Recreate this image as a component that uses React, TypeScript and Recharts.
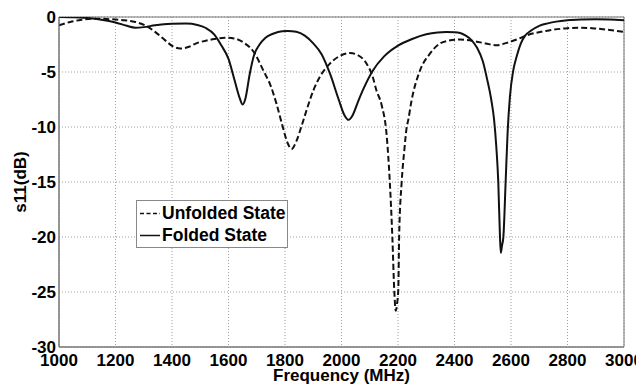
import React from 'react';
import { LineChart, Line, XAxis, YAxis, CartesianGrid, ReferenceArea } from 'recharts';

const xTicks = [1000, 1200, 1400, 1600, 1800, 2000, 2200, 2400, 2600, 2800, 3000];
const yTicks = [-30, -25, -20, -15, -10, -5, 0];

const foldedFreq = [
  1000, 1050, 1100, 1150, 1200, 1240, 1270, 1300, 1340, 1400, 1450, 1490, 1520, 1550, 1575, 1600,
  1622, 1640, 1650, 1660, 1675, 1690, 1710, 1730, 1760, 1790, 1810, 1840, 1870, 1900, 1930, 1960,
  1990, 2010, 2025, 2040, 2060, 2080, 2110, 2150, 2200, 2250, 2300, 2340, 2370, 2400, 2420, 2440,
  2460, 2480, 2500, 2515, 2530, 2540, 2548, 2555, 2561, 2564, 2568, 2573, 2581, 2588, 2596, 2608,
  2620, 2635, 2650, 2670, 2700, 2730, 2760, 2800, 2850, 2900, 2950, 3000,
];
const foldedS11 = [
  0, -0.02, -0.1, -0.25, -0.5, -0.8, -0.97, -0.92, -0.75, -0.62, -0.6, -0.72, -1.0, -1.6, -2.6, -3.8,
  -5.8, -7.4, -7.95, -7.4, -5.2, -3.5, -2.5, -1.9, -1.5, -1.3, -1.27, -1.35, -1.7, -2.4, -3.4, -5.2,
  -7.5, -8.9, -9.35, -8.9, -7.6, -6.4, -4.9, -3.6, -2.6, -2.0, -1.57, -1.4, -1.36, -1.38, -1.45, -1.7,
  -2.1, -2.8, -4.0, -5.6, -7.5, -9.3, -11.8, -15, -20, -21.45, -20.8, -20, -15, -10.5, -7.3, -4.85,
  -3.6, -2.4, -1.7, -1.25, -0.8, -0.58, -0.42, -0.3, -0.23, -0.2, -0.23, -0.3,
];

const unfoldedFreq = [
  1000, 1040, 1080, 1126, 1180, 1233, 1270, 1304, 1340, 1375, 1405, 1430, 1460, 1490, 1516, 1550,
  1587, 1620, 1658, 1690, 1723, 1750, 1770, 1790, 1810, 1823, 1840, 1860, 1876, 1900, 1923, 1959,
  1990, 2030, 2060, 2089, 2110, 2124, 2142, 2160, 2171, 2180, 2187, 2192, 2197, 2201, 2204, 2213,
  2222, 2231, 2236, 2248, 2278, 2313, 2349, 2380, 2419, 2467, 2510, 2549, 2585, 2620, 2656, 2703,
  2738, 2800, 2844, 2900, 2950, 3000,
];
const unfoldedS11 = [
  -0.75, -0.45, -0.25, -0.15, -0.2, -0.3, -0.45, -0.75, -1.35, -2.1, -2.7, -2.87, -2.7, -2.35, -2.18, -2.0,
  -1.88, -1.95, -2.4, -3.2, -4.85, -6.3, -7.9, -9.8, -11.5, -12.0, -11.3, -9.8, -8.5, -6.7, -5.45, -4.24,
  -3.6, -3.27, -3.5, -4.24, -5.4, -6.7, -8.0, -10.8, -15, -20, -25, -26.7, -26.0, -24.8, -20, -15,
  -12.2, -10, -9.4, -7.6, -4.85, -3.33, -2.4, -2.15, -2.05, -2.18, -2.4, -2.57, -2.35, -2.05, -1.66, -1.36,
  -1.2, -1.02, -0.97, -1.05, -1.18, -1.36,
];

const foldedData = foldedFreq.map((f, i) => ({ f, v: foldedS11[i] }));
const unfoldedData = unfoldedFreq.map((f, i) => ({ f, v: unfoldedS11[i] }));

const FONT = '"Liberation Sans", Arial, sans-serif';
const tickStyle = { fill: '#000', fontSize: 17, fontWeight: 700, fontFamily: FONT };

const YLabel = () => (
  <text
    x={12}
    y={174}
    transform="rotate(-90, 12, 174)"
    textAnchor="middle"
    dominantBaseline="central"
    fill="#000"
    fontSize={17}
    fontWeight={700}
    fontFamily={FONT}
  >
    s11(dB)
  </text>
);

export default function App() {
  return (
    <div style={{ position: 'relative', width: 636, height: 377 }}>
      <LineChart width={636} height={377} margin={{ top: 9, right: 20, bottom: 0, left: 0 }}>
        <CartesianGrid stroke="#a0a0a0" strokeDasharray="1 2" />
        <XAxis
          dataKey="f"
          type="number"
          domain={[1000, 3000]}
          ticks={xTicks}
          interval={0}
          height={38}
          tickSize={0}
          tickMargin={7}
          axisLine={{ stroke: '#777' }}
          tick={tickStyle}
          allowDataOverflow
          label={{ value: 'Frequency (MHz)', position: 'insideBottom', offset: 4, fill: '#000', fontSize: 17, fontWeight: 700, fontFamily: FONT }}
        />
        <YAxis
          type="number"
          domain={[-30, 0]}
          ticks={yTicks}
          interval={0}
          width={51}
          tickSize={0}
          tickMargin={3}
          axisLine={{ stroke: '#777' }}
          tick={tickStyle}
          allowDataOverflow
          label={<YLabel />}
        />
        <ReferenceArea x1={1000} x2={3000} y1={-30} y2={0} fill="none" stroke="#777" strokeWidth={1} />
        <Line
          data={unfoldedData}
          dataKey="v"
          type="monotone"
          stroke="#111"
          strokeWidth={2}
          strokeDasharray="6 3"
          dot={false}
          isAnimationActive={false}
        />
        <Line
          data={foldedData}
          dataKey="v"
          type="monotone"
          stroke="#111"
          strokeWidth={2}
          dot={false}
          isAnimationActive={false}
        />
      </LineChart>
      <div
        style={{
          position: 'absolute',
          left: 128,
          top: 192,
          width: 150,
          height: 46,
          border: '1px solid #888',
          background: '#fff',
          fontFamily: FONT,
          fontWeight: 700,
          fontSize: 17.5,
          color: '#000',
          zIndex: 2,
        }}
      >
        <svg width={24} height={46} style={{ position: 'absolute', left: 0, top: 0 }}>
          <line x1={3} y1={12.5} x2={23} y2={12.5} stroke="#111" strokeWidth={1.5} strokeDasharray="4 2.5" />
          <line x1={3} y1={34.5} x2={23} y2={34.5} stroke="#111" strokeWidth={1.5} />
        </svg>
        <div style={{ position: 'absolute', left: 25, top: 12.5, transform: 'translateY(-50%)', whiteSpace: 'nowrap', lineHeight: 1 }}>
          Unfolded State
        </div>
        <div style={{ position: 'absolute', left: 25, top: 34.5, transform: 'translateY(-50%)', whiteSpace: 'nowrap', lineHeight: 1 }}>
          Folded State
        </div>
      </div>
    </div>
  );
}
